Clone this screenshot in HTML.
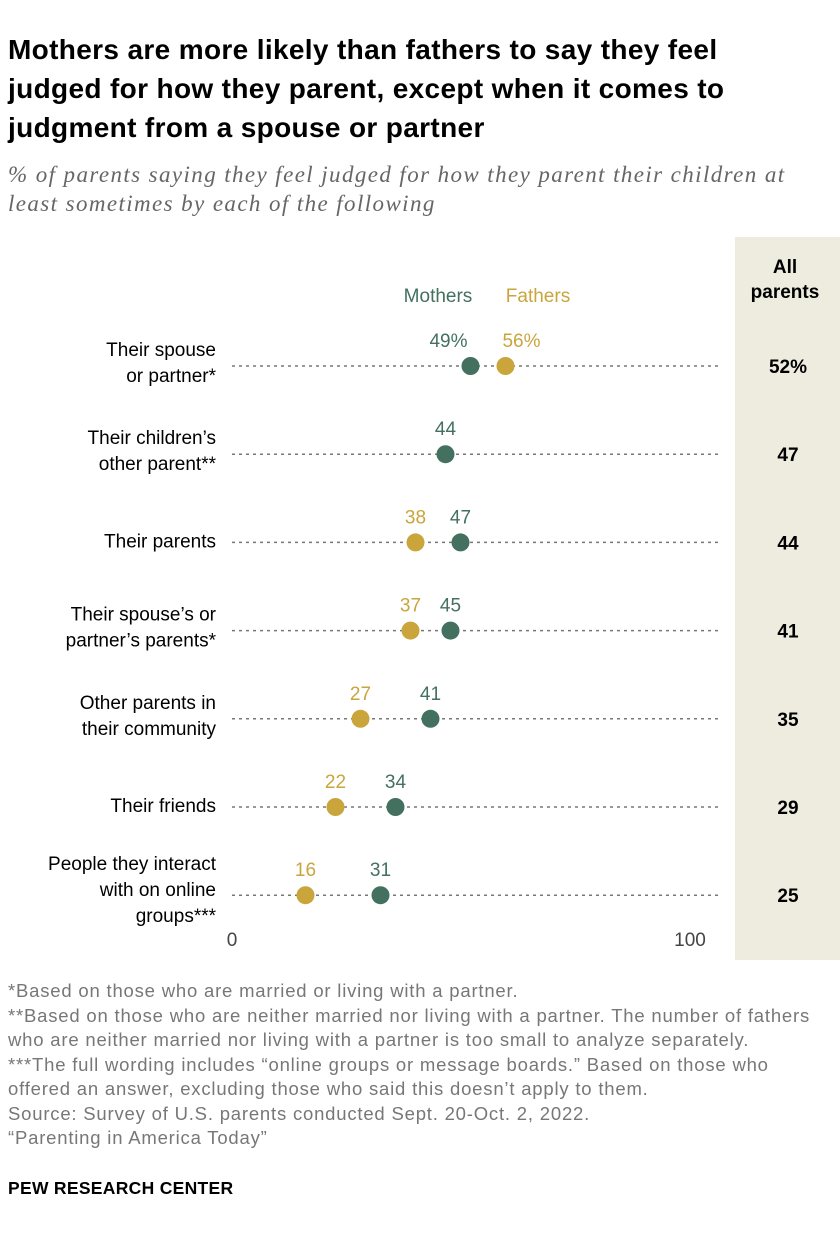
<!DOCTYPE html>
<html><head><meta charset="utf-8"><style>
body{margin:0;width:840px;height:1236px;background:#fff;font-family:"Liberation Sans",sans-serif;position:relative;overflow:hidden;color:#000}
.t{position:absolute}
</style></head><body>
<div class="t" style="left:8px;top:30px;width:802px;font-size:28px;font-weight:bold;line-height:39px;letter-spacing:0.35px">Mothers are more likely than fathers to say they feel judged for how they parent, except when it comes to judgment from a spouse or partner</div>
<div class="t" style="left:8px;top:160px;width:805px;font-size:23px;letter-spacing:1.4px;font-style:italic;color:#666;line-height:29px;font-family:'Liberation Serif',serif">% of parents saying they feel judged for how they parent their children at least sometimes by each of the following</div>
<svg class="t" style="left:0;top:0" width="840" height="1236" id="chart">
<rect x="735" y="237" width="105" height="723" fill="#eeebdf"/>
<text x="785" y="273" text-anchor="middle" font-size="19" font-weight="bold">All</text>
<text x="785" y="298" text-anchor="middle" font-size="19" font-weight="bold">parents</text>
<text x="438" y="302" text-anchor="middle" font-size="19" fill="#44705f">Mothers</text>
<text x="538" y="302" text-anchor="middle" font-size="19" fill="#c9a53c">Fathers</text>
<text x="232" y="946" text-anchor="middle" font-size="19" fill="#444">0</text>
<text x="690" y="946" text-anchor="middle" font-size="19" fill="#444">100</text>
</svg>
<div class="t" style="left:8px;top:979px;width:828px;font-size:18.5px;letter-spacing:0.8px;color:#777;line-height:24.5px">*Based on those who are married or living with a partner.<br>**Based on those who are neither married nor living with a partner. The number of fathers who are neither married nor living with a partner is too small to analyze separately.<br>***The full wording includes “online groups or message boards.” Based on those who offered an answer, excluding those who said this doesn’t apply to them.<br>Source: Survey of U.S. parents conducted Sept. 20-Oct. 2, 2022.<br>“Parenting in America Today”</div>
<div class="t" style="left:8px;top:1178px;font-size:17.5px;font-weight:bold;letter-spacing:0.3px">PEW RESEARCH CENTER</div>
<script>
const categories=[["Their spouse","or partner*"],["Their children’s","other parent**"],["Their parents"],["Their spouse’s or","partner’s parents*"],["Other parents in","their community"],["Their friends"],["People they interact","with on online","groups***"]];
const mothers=[49,44,47,45,41,34,31];
const fathers=[56,null,38,37,27,22,16];
const allParents=[52,47,44,41,35,29,25];
const svg=document.getElementById('chart');
const NS='http://www.w3.org/2000/svg';
const x=v=>225.5+v*5;
const y=i=>366+i*88.2;
function mk(tag,a,txt){const e=document.createElementNS(NS,tag);for(const k in a)e.setAttribute(k,a[k]);if(txt!=null)e.textContent=txt;svg.appendChild(e);return e;}
categories.forEach((c,i)=>{
 const yy=y(i);
 const ln=mk('line',{x1:232,x2:720,y1:yy,y2:yy,stroke:'#777','stroke-width':1.5,'stroke-dasharray':'3,4'});
 
 
 const n=c.length;const lh=26;
 c.forEach((s,j)=>{
  const by=n===1?yy+5:(n===2?yy-10+j*lh:yy-25+j*lh);
  const t=mk('text',{x:216,y:by,'text-anchor':'end','font-size':19},s);
  
  });
 const m=mothers[i],f=fathers[i];
 const first=i===0;
 [[m,'#44705f','mothers',f],[f,'#c9a53c','fathers',m]].forEach(([v,col,nm,o])=>{
  if(v==null)return;
  const d=mk('circle',{cx:x(v),cy:yy,r:9,fill:col});
  
  
  let lx=x(v);
  if(first&&o!=null)lx+=(v<o?-22:16);
  const t=mk('text',{x:lx,y:yy-19,'text-anchor':'middle','font-size':19,fill:col},v+(first?'%':''));
  
  
 });
 const a=mk('text',{x:788,y:yy+7,'text-anchor':'middle','font-size':19,'font-weight':'bold'},allParents[i]+(first?'%':''));
 
 
});
</script>
</body></html>
